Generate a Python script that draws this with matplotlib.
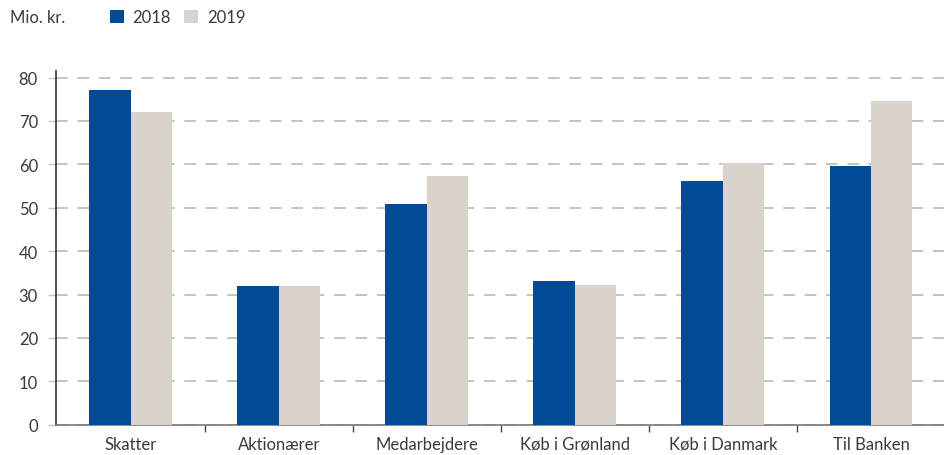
import matplotlib.pyplot as plt
import numpy as np

plt.rcParams['font.family'] = ['Lato', 'DejaVu Sans']

categories = ['Skatter', 'Aktionærer', 'Medarbejdere', 'Køb i Grønland', 'Køb i Danmark', 'Til Banken']
v2018 = [77.2, 31.9, 50.9, 33.0, 56.1, 59.7]
v2019 = [72.1, 31.9, 57.2, 32.3, 60.3, 74.6]
years = ['2018', '2019']
yticks = [0, 10, 20, 30, 40, 50, 60, 70, 80]

blue = '#004B93'
beige = '#D9D3CC'
txt = '#3a3a3a'

fig = plt.figure(figsize=(9.45, 4.56), dpi=100)
ax = fig.add_axes([0.0593, 0.0664, 0.9407, 0.7757])

x = np.arange(len(categories))
w = 0.28
ax.bar(x - w / 2, v2018, w, color=blue, label=years[0], zorder=3)
ax.bar(x + w / 2, v2019, w, color=beige, label=years[1], zorder=3)

ax.set_xlim(-0.505, 5.42)
ax.set_ylim(0, 81.5)

ax.set_yticks(yticks)
ax.yaxis.grid(True, color='#c4c4c4', lw=1.4, linestyle=(0, (6, 5)), zorder=0)
ax.set_axisbelow(True)

# x ticks at group boundaries, labels at centres
ax.set_xticks(x + 0.5, minor=False)
ax.set_xticklabels([])
ax.set_xticks(x, minor=True)
ax.set_xticklabels(categories, minor=True)
ax.tick_params(axis='x', which='major', direction='out', length=5, width=1, color='#444')
ax.tick_params(axis='x', which='minor', length=0, pad=8, labelsize=12, labelcolor=txt)
ax.tick_params(axis='y', direction='out', length=6, width=1, color='#c4c4c4', pad=7,
               labelsize=12, labelcolor=txt)

for s in ['top', 'right']:
    ax.spines[s].set_visible(False)
ax.spines['left'].set_color('#333')
ax.spines['left'].set_linewidth(1.2)
ax.spines['bottom'].set_color('#777')
ax.spines['bottom'].set_linewidth(1.2)

fig.text(10 / 945, 1 - 18 / 456, 'Mio. kr.', fontsize=12, color=txt, va='center', ha='left')
fig.legend(loc='center left', bbox_to_anchor=(110 / 945, 1 - 18 / 456), ncol=2, frameon=False,
           fontsize=12, handlelength=0.85, handleheight=0.85, handletextpad=0.5,
           columnspacing=0.8, labelcolor=txt, borderaxespad=0, borderpad=0)

fig.savefig('out.png', dpi=100)
